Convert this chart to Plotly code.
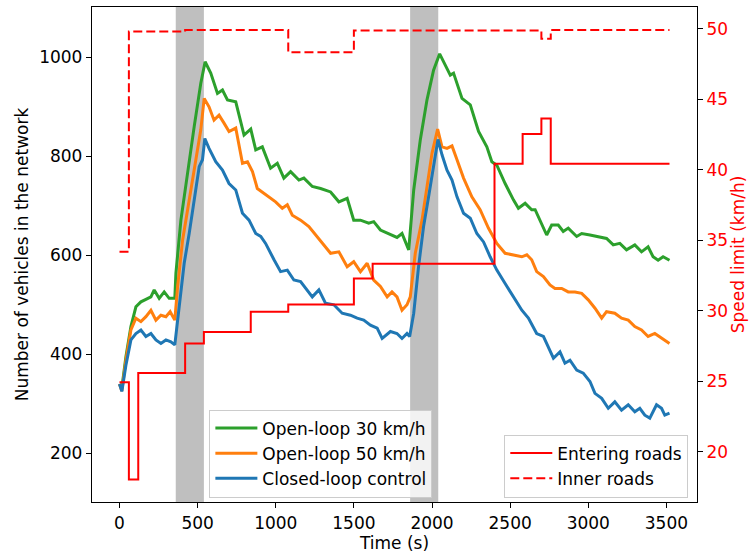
import plotly.graph_objects as go

# ---------------- data ----------------
t_ol30 = [0, 15, 41, 73, 105, 137, 169, 201, 222, 254, 286, 318, 354, 361, 393, 435, 478, 520, 548, 584,
          627, 659, 691, 744, 797, 840, 872, 914, 967, 1010, 1052, 1095, 1148, 1180, 1234, 1287, 1351,
          1404, 1457, 1499, 1542, 1595, 1627, 1670, 1723, 1776, 1808, 1851, 1883, 1925, 1968, 2010, 2049,
          2085, 2117, 2138, 2192, 2245, 2298, 2351, 2383, 2415, 2468, 2521, 2553, 2596, 2638, 2660, 2692,
          2734, 2766, 2808, 2840, 2872, 2926, 2958, 3011, 3064, 3117, 3160, 3202, 3245, 3298, 3341, 3383,
          3415, 3447, 3479, 3520]
n_ol30 = [340, 332, 395, 456, 496, 506, 511, 516, 530, 513, 526, 513, 513, 564, 671, 766, 860, 947, 991, 968,
          927, 934, 914, 910, 843, 855, 813, 819, 776, 786, 756, 769, 752, 756, 739, 735, 728,
          708, 715, 671, 671, 665, 668, 651, 644, 636, 644, 611, 732, 833, 914, 974, 1007,
          984, 964, 968, 917, 904, 850, 819, 789, 782, 745, 712, 695, 705, 692, 692, 671,
          641, 661, 661, 648, 655, 638, 644, 641, 638, 634, 621, 624, 611, 621, 607, 617,
          597, 590, 597, 590]

t_ol50 = [0, 15, 41, 73, 105, 137, 169, 201, 233, 265, 297, 324, 354, 372, 404, 446, 489, 520, 542, 573,
          605, 637, 669, 701, 744, 787, 819, 851, 882, 935, 999, 1042, 1074, 1106, 1159, 1212, 1255,
          1298, 1351, 1404, 1457, 1499, 1542, 1585, 1627, 1670, 1713, 1744, 1776, 1808, 1840, 1861,
          1893, 1936, 1968, 2000, 2036, 2064, 2096, 2128, 2160, 2202, 2255, 2308, 2361, 2415, 2468,
          2521, 2575, 2607, 2638, 2670, 2713, 2755, 2787, 2830, 2872, 2915, 2958, 3000, 3043, 3086,
          3117, 3170, 3213, 3256, 3298, 3341, 3383, 3426, 3469, 3520]
n_ol50 = [340, 326, 388, 449, 473, 466, 476, 489, 469, 479, 476, 486, 469, 537, 631, 712, 799, 853, 917, 900,
          873, 883, 867, 850, 857, 786, 789, 769, 735, 722, 708, 695, 702, 681, 671, 658, 641,
          624, 604, 607, 577, 587, 567, 584, 550, 537, 516, 526, 516, 489, 500, 516,
          604, 671, 739, 806, 855, 819, 816, 821, 793, 756, 718, 692, 655, 624, 604,
          601, 597, 601, 591, 567, 557, 540, 533, 533, 526, 526, 523, 510, 493, 473,
          486, 483, 473, 469, 456, 449, 436, 442, 432, 422]

t_cl = [0, 15, 41, 73, 105, 137, 169, 201, 233, 265, 297, 329, 354, 382, 414, 446, 478, 510, 531, 546,
        573, 616, 659, 701, 744, 787, 829, 872, 904, 935, 989, 1031, 1074, 1116, 1159, 1234, 1276,
        1319, 1372, 1425, 1478, 1521, 1563, 1606, 1649, 1681, 1734, 1776, 1808, 1840, 1857, 1883,
        1914, 1946, 1978, 2010, 2038, 2064, 2096, 2128, 2160, 2202, 2245, 2287, 2330, 2372, 2415,
        2468, 2521, 2575, 2617, 2660, 2670, 2713, 2745, 2777, 2819, 2851, 2883, 2926, 2968, 3011,
        3043, 3086, 3128, 3170, 3213, 3256, 3298, 3330, 3362, 3394, 3437, 3469, 3490, 3520]
n_cl = [340, 325, 378, 429, 442, 449, 436, 442, 429, 422, 429, 425, 419, 496, 584, 644, 712, 779, 793, 836,
        816, 789, 772, 745, 732, 685, 671, 644, 638, 624, 591, 567, 570, 550, 547, 516, 530,
        503, 500, 483, 479, 473, 469, 459, 453, 432, 446, 442, 432, 442, 436, 483,
        577, 658, 718, 779, 834, 803, 772, 752, 718, 685, 675, 644, 627, 597, 570,
        543, 516, 489, 473, 449, 442, 436, 415, 392, 405, 382, 388, 368, 362, 345,
        321, 311, 291, 304, 287, 298, 284, 291, 277, 271, 298, 291, 277, 281]

t_enter = [0, 60, 120, 420, 540, 840, 1080, 1500, 1620, 2400, 2580, 2700, 2760, 3520]
v_enter = [24.95, 18.05, 25.6, 27.7, 28.5, 29.95, 30.45, 32.3, 33.35, 40.45, 42.55, 43.65, 40.45, 40.45]

t_inner = [0, 60, 420, 1080, 1500, 2700, 2760, 3520]
v_inner = [34.2, 49.82, 49.93, 48.35, 49.9, 49.3, 49.93, 49.93]

bands = [(360, 540), (1860, 2040)]

x_ticks = [0, 500, 1000, 1500, 2000, 2500, 3000, 3500]
y_ticks = [200, 400, 600, 800, 1000]
y2_ticks = [20, 25, 30, 35, 40, 45, 50]

# ---------------- figure ----------------
FONT = "DejaVu Sans"
FS = 17
fig = go.Figure()

series = [
    ("Open-loop 30 km/h", t_ol30, n_ol30, "#2ca02c"),
    ("Open-loop 50 km/h", t_ol50, n_ol50, "#ff7f0e"),
    ("Closed-loop control", t_cl, n_cl, "#1f77b4"),
]
for name, t, n, c in series:
    fig.add_trace(go.Scatter(x=t, y=n, mode="lines", name=name,
                             line=dict(color=c, width=3), legend="legend"))

fig.add_trace(go.Scatter(x=t_enter, y=v_enter, mode="lines", name="Entering roads",
                         line=dict(color="#ff0000", width=2, shape="hv"),
                         yaxis="y2", legend="legend2"))
fig.add_trace(go.Scatter(x=t_inner, y=v_inner, mode="lines", name="Inner roads",
                         line=dict(color="#ff0000", width=2, shape="hv", dash="9px,4px"),
                         yaxis="y2", legend="legend2"))

for a, b in bands:
    fig.add_shape(type="rect", xref="x", yref="paper", x0=a, x1=b, y0=0, y1=1,
                  fillcolor="#bfbfbf", line=dict(width=0), layer="below")

axis_common = dict(showgrid=False, zeroline=False, showline=True, linecolor="black",
                   linewidth=1.3, ticks="outside", ticklen=5, tickwidth=1.2, tickcolor="black",
                   automargin=False,
                   tickfont=dict(family=FONT, size=FS, color="black"))

fig.update_layout(
    width=752, height=556,
    margin=dict(l=92, r=55, t=7, b=54, autoexpand=False),
    paper_bgcolor="white", plot_bgcolor="white",
    font=dict(family=FONT, size=FS, color="black"),
    xaxis=dict(range=[-176, 3696], tickvals=x_ticks, mirror=True,
               title=dict(text="Time (s)", font=dict(family=FONT, size=FS), standoff=4),
               **axis_common),
    yaxis=dict(range=[101.6, 1101.6], tickvals=y_ticks, mirror=True,
               title=dict(text="Number of vehicles in the network", font=dict(family=FONT, size=FS),
                          standoff=6),
               **axis_common),
    yaxis2=dict(range=[16.45, 51.56], tickvals=y2_ticks, overlaying="y", side="right",
                showgrid=False, zeroline=False, showline=True, linecolor="black", linewidth=1.3,
                ticks="outside", ticklen=5, tickwidth=1.2, tickcolor="black", automargin=False,
                tickfont=dict(family=FONT, size=FS, color="#ff0000"),
                title=dict(text="Speed limit (km/h)", font=dict(family=FONT, size=FS, color="#ff0000"),
                           standoff=4)),
    legend=dict(x=0.194, y=0.009, xanchor="left", yanchor="bottom", itemwidth=42,
                bgcolor="rgba(255,255,255,0.8)", bordercolor="#cccccc", borderwidth=1,
                font=dict(family=FONT, size=FS)),
    legend2=dict(x=0.9856, y=0.009, xanchor="right", yanchor="bottom", itemwidth=42,
                 bgcolor="rgba(255,255,255,0.8)", bordercolor="#cccccc", borderwidth=1,
                 font=dict(family=FONT, size=FS)),
    showlegend=True,
)

fig.write_html("out.html", config={"displayModeBar": False},
               post_script="document.body.style.margin='0';document.body.style.padding='0';")
